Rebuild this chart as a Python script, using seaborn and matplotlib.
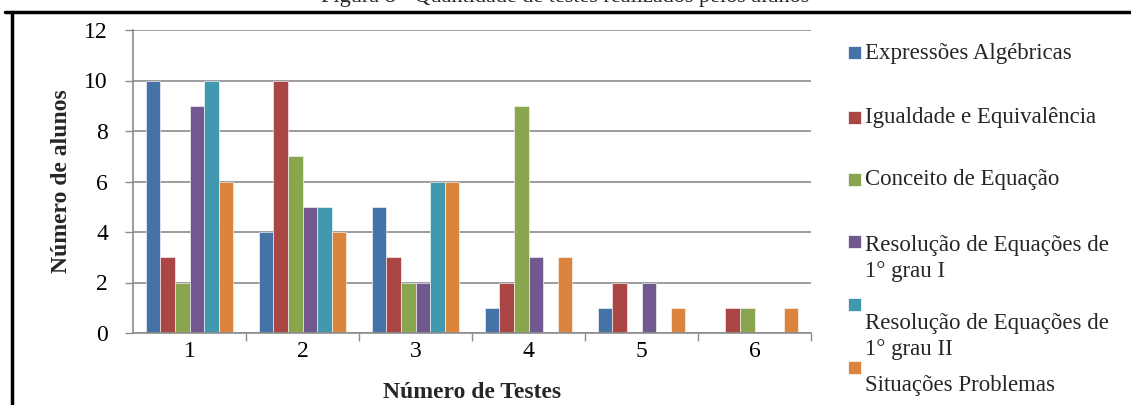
import matplotlib
matplotlib.use("Agg")
import matplotlib.pyplot as plt
import seaborn as sns
import pandas as pd
from matplotlib.patches import Rectangle
from matplotlib.lines import Line2D
from matplotlib.ticker import FixedLocator

categories = ["1", "2", "3", "4", "5", "6"]
series_names = [
    "Expressões Algébricas",
    "Igualdade e Equivalência",
    "Conceito de Equação",
    "Resolução de Equações de 1° grau I",
    "Resolução de Equações de 1° grau II",
    "Situações Problemas",
]
expressoes = [10, 4, 5, 1, 1, 0]
igualdade = [3, 10, 3, 2, 2, 1]
conceito = [2, 7, 2, 9, 0, 1]
resolucao_i = [9, 5, 2, 3, 2, 0]
resolucao_ii = [10, 5, 6, 0, 0, 0]
situacoes = [6, 4, 6, 3, 1, 1]
yticks = [0, 2, 4, 6, 8, 10, 12]

colors = ["#4572A7", "#AA4643", "#89A54E", "#71588F", "#4198AF", "#DB843D"]

all_series = [expressoes, igualdade, conceito, resolucao_i, resolucao_ii, situacoes]
rows = []
for name, vals in zip(series_names, all_series):
    for c, v in zip(categories, vals):
        rows.append({"teste": c, "serie": name, "alunos": v})
df = pd.DataFrame(rows)

sns.set_theme(style="white")
plt.rcParams["font.family"] = ["Liberation Serif", "DejaVu Serif"]

fig = plt.figure(figsize=(11.31, 4.05), dpi=100)
ax = fig.add_axes([133 / 1131, 1 - 333 / 405, (811 - 133) / 1131, (333 - 30) / 405])

sns.barplot(data=df, x="teste", y="alunos", hue="serie", hue_order=series_names,
            order=categories, palette=colors, width=0.77, ax=ax, legend=False,
            edgecolor="white", linewidth=0.4, saturation=1)

ax.set_ylim(0, 12)
ax.set_xlim(-0.5, 5.5)
ax.set_yticks(yticks)
ax.yaxis.grid(True, color="#8c8c8c", linewidth=1.2)
ax.set_axisbelow(True)
for s in ["top", "right"]:
    ax.spines[s].set_visible(False)
for s in ["left", "bottom"]:
    ax.spines[s].set_color("#8c8c8c")
    ax.spines[s].set_linewidth(1.2)

ax.tick_params(axis="y", direction="out", length=6, width=1, color="#8c8c8c",
               labelsize=17, pad=12, left=True)
ax.tick_params(axis="x", which="major", length=0, labelsize=17, pad=6)
ax.xaxis.set_minor_locator(FixedLocator([0.5, 1.5, 2.5, 3.5, 4.5, 5.5]))
ax.tick_params(axis="x", which="minor", direction="out", length=6, width=1,
               color="#8c8c8c", bottom=True)
for lbl in ax.get_yticklabels() + ax.get_xticklabels():
    lbl.set_color("black")

ax.set_ylabel("Número de alunos", fontsize=17, fontweight="bold", labelpad=9)
ax.set_xlabel("Número de Testes", fontsize=17, fontweight="bold", labelpad=14)

# manual legend (positions follow the reference layout)
legend_items = [
    (53, ["Expressões Algébricas"], [53]),
    (118, ["Igualdade e Equivalência"], [118]),
    (180, ["Conceito de Equação"], [180]),
    (242, ["Resolução de Equações de", "1° grau I"], [246, 271]),
    (305, ["Resolução de Equações de", "1° grau II"], [324, 350]),
    (368, ["Situações Problemas"], [385]),
]
for (py, lines, tys), col in zip(legend_items, colors):
    fig.patches.append(Rectangle((848 / 1131, 1 - (py + 6) / 405), 13 / 1131, 13 / 405,
                                 transform=fig.transFigure, facecolor=col,
                                 edgecolor="white", linewidth=0.5))
    for t, ty in zip(lines, tys):
        fig.text(865 / 1131, 1 - ty / 405, t, fontsize=16.5, va="center", ha="left")

# outer frame lines and cut title
fig.add_artist(Line2D([5 / 1131, 1], [1 - 12 / 405, 1 - 12 / 405], color="black",
                      linewidth=2.5, transform=fig.transFigure))
fig.add_artist(Line2D([12 / 1131, 12 / 1131], [0, 1 - 12 / 405], color="black",
                      linewidth=2.5, transform=fig.transFigure))
fig.text(565 / 1131, 1 - 2 / 405, "Figura 8 - Quantidade de testes realizados pelos alunos",
         fontsize=16, ha="center", va="baseline")

fig.savefig("out.png", dpi=100)
